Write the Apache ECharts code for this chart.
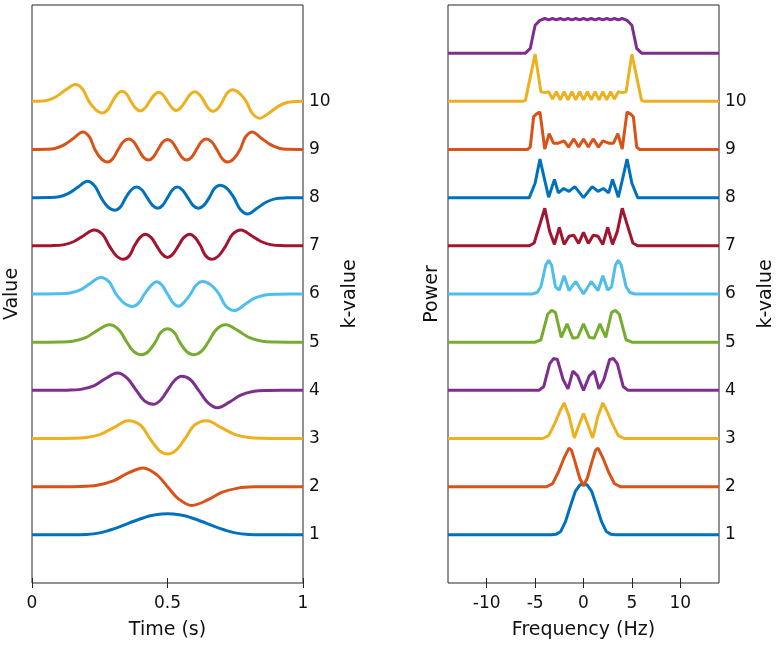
<!DOCTYPE html>
<html>
<head>
<meta charset="utf-8">
<title>Slepian tapers</title>
<script src="https://cdn.jsdelivr.net/npm/echarts@6/dist/echarts.min.js"></script>
<style>
  html, body { margin: 0; padding: 0; background: #fff; }
  #main { width: 780px; height: 647px; }
</style>
</head>
<body>
<div id="main"></div>
<script>
// tick labels
var timeTicks = [0, 0.5, 1];
var freqTicks = [-10, -5, 0, 5, 10];
var kTicks = [1, 2, 3, 4, 5, 6, 7, 8, 9, 10];

// time-domain tapers, [time (s), value above the k baseline]
var taper1 = [[0,0],[0.15,0],[0.2,0.005],[0.25,0.04],[0.31,0.14],[0.36,0.25],[0.41,0.35],[0.45,0.41],[0.5,0.44],
  [0.55,0.41],[0.59,0.35],[0.64,0.25],[0.69,0.14],[0.75,0.04],[0.8,0.005],[0.85,0],[1,0]];
var taper2 = [[0,0],[0.13,0],[0.18,0.003],[0.24,0.03],[0.3,0.12],[0.35,0.27],[0.41,0.39],[0.46,0.25],[0.5,0],
  [0.54,-0.25],[0.59,-0.39],[0.65,-0.27],[0.7,-0.12],[0.76,-0.03],[0.82,-0.003],[0.87,0],[1,0]];
var taper3 = [[0,0],[0.1,0],[0.15,0.003],[0.2,0.02],[0.25,0.08],[0.3,0.22],[0.355,0.37],[0.4,0.28],[0.435,0],
  [0.47,-0.25],[0.5,-0.32],[0.53,-0.25],[0.565,0],[0.6,0.28],[0.645,0.37],[0.7,0.22],[0.75,0.08],[0.8,0.02],
  [0.85,0.003],[0.9,0],[1,0]];
var taper4 = [[0,0],[0.08,0],[0.13,0.003],[0.18,0.02],[0.23,0.1],[0.27,0.24],[0.315,0.36],[0.35,0.26],[0.385,0],
  [0.415,-0.22],[0.448,-0.29],[0.475,-0.2],[0.5,0],[0.525,0.2],[0.552,0.29],[0.585,0.22],[0.615,0],[0.65,-0.26],
  [0.685,-0.36],[0.73,-0.24],[0.77,-0.1],[0.82,-0.02],[0.87,-0.003],[0.92,0],[1,0]];
var taper5 = [[0,0],[0.06,0],[0.1,0.003],[0.15,0.02],[0.2,0.1],[0.24,0.24],[0.285,0.36],[0.32,0.26],[0.35,0],
  [0.375,-0.19],[0.405,-0.26],[0.43,-0.19],[0.455,0],[0.475,0.2],[0.5,0.28],[0.525,0.2],[0.545,0],[0.57,-0.19],
  [0.595,-0.26],[0.625,-0.19],[0.65,0],[0.68,0.26],[0.715,0.36],[0.76,0.24],[0.8,0.1],[0.85,0.02],[0.9,0.003],
  [0.94,0],[1,0]];
var taper6 = [[0,0],[0.05,0],[0.09,0.003],[0.14,0.02],[0.18,0.09],[0.215,0.22],[0.253,0.345],[0.285,0.25],[0.31,0],
  [0.34,-0.19],[0.37,-0.26],[0.395,-0.18],[0.415,0],[0.44,0.18],[0.46,0.255],[0.48,0.18],[0.5,0],[0.52,-0.18],
  [0.54,-0.255],[0.56,-0.18],[0.585,0],[0.605,0.18],[0.63,0.26],[0.66,0.19],[0.69,0],[0.715,-0.25],[0.747,-0.345],
  [0.785,-0.22],[0.82,-0.09],[0.86,-0.02],[0.91,-0.003],[0.95,0],[1,0]];
var taper7 = [[0,0],[0.03,0],[0.07,0.003],[0.115,0.02],[0.155,0.09],[0.19,0.21],[0.229,0.33],[0.26,0.24],[0.285,0],
  [0.31,-0.2],[0.337,-0.28],[0.36,-0.2],[0.378,0],[0.398,0.17],[0.418,0.24],[0.44,0.17],[0.46,0],[0.48,-0.17],
  [0.5,-0.24],[0.52,-0.17],[0.54,0],[0.56,0.17],[0.582,0.24],[0.602,0.17],[0.622,0],[0.64,-0.2],[0.663,-0.28],
  [0.69,-0.2],[0.715,0],[0.74,0.24],[0.771,0.33],[0.81,0.21],[0.845,0.09],[0.885,0.02],[0.93,0.003],[0.97,0],[1,0]];
var taper8 = [[0,0],[0.02,0],[0.06,0.003],[0.1,0.02],[0.135,0.09],[0.17,0.22],[0.204,0.34],[0.232,0.24],[0.255,0],
  [0.28,-0.19],[0.306,-0.26],[0.327,-0.19],[0.346,0],[0.366,0.16],[0.386,0.22],[0.406,0.16],[0.425,0],[0.445,-0.16],
  [0.464,-0.22],[0.482,-0.16],[0.5,0],[0.518,0.16],[0.536,0.22],[0.555,0.16],[0.575,0],[0.594,-0.16],[0.614,-0.22],
  [0.634,-0.16],[0.654,0],[0.673,0.19],[0.694,0.26],[0.72,0.19],[0.745,0],[0.768,-0.24],[0.796,-0.34],[0.83,-0.22],
  [0.865,-0.09],[0.9,-0.02],[0.94,-0.003],[0.98,0],[1,0]];
var taper9 = [[0,0],[0.02,0],[0.05,0.003],[0.085,0.02],[0.12,0.1],[0.155,0.24],[0.187,0.365],[0.212,0.26],[0.232,0],
  [0.255,-0.19],[0.278,-0.26],[0.298,-0.19],[0.318,0],[0.337,0.16],[0.357,0.22],[0.375,0.16],[0.393,0],[0.411,-0.16],
  [0.43,-0.22],[0.447,-0.16],[0.465,0],[0.482,0.15],[0.5,0.21],[0.518,0.15],[0.535,0],[0.553,-0.16],[0.57,-0.22],
  [0.589,-0.16],[0.607,0],[0.625,0.16],[0.643,0.22],[0.663,0.16],[0.682,0],[0.702,-0.19],[0.722,-0.26],[0.745,-0.19],
  [0.768,0],[0.788,0.26],[0.813,0.365],[0.845,0.24],[0.88,0.1],[0.915,0.02],[0.95,0.003],[0.98,0],[1,0]];
var taper10 = [[0,0],[0.03,0.003],[0.06,0.025],[0.09,0.1],[0.125,0.24],[0.16,0.35],[0.187,0.25],[0.21,0],
  [0.235,-0.17],[0.26,-0.24],[0.28,-0.17],[0.297,0],[0.315,0.15],[0.332,0.21],[0.349,0.15],[0.365,0],[0.382,-0.14],
  [0.4,-0.2],[0.417,-0.14],[0.434,0],[0.451,0.13],[0.468,0.19],[0.484,0.13],[0.5,0],[0.516,-0.13],[0.532,-0.19],
  [0.549,-0.13],[0.566,0],[0.583,0.14],[0.6,0.2],[0.618,0.14],[0.635,0],[0.651,-0.15],[0.668,-0.21],[0.686,-0.15],
  [0.703,0],[0.72,0.17],[0.74,0.24],[0.765,0.17],[0.79,0],[0.813,-0.25],[0.84,-0.35],[0.875,-0.24],[0.91,-0.1],
  [0.94,-0.025],[0.97,-0.003],[1,0]];

// power spectra, [frequency (Hz), power above the k baseline]
var spectrum1 = [[-14,0],[-3.3,0],[-2.85,0.01],[-2.35,0.07],[-1.85,0.28],[-1.35,0.6],[-0.85,0.9],[-0.35,1.04],[0,1.04],
  [0.35,1.04],[0.85,0.9],[1.35,0.6],[1.85,0.28],[2.35,0.07],[2.85,0.01],[3.3,0],[14,0]];
var spectrum2 = [[-14,0],[-3.8,0],[-3.2,0.06],[-2.6,0.3],[-2.0,0.6],[-1.5,0.8],[-1.25,0.76],[-0.85,0.5],[-0.4,0.18],
  [0,0.02],[0.4,0.18],[0.85,0.5],[1.25,0.76],[1.5,0.8],[2.0,0.6],[2.6,0.3],[3.2,0.06],[3.8,0],[14,0]];
var spectrum3 = [[-14,0],[-4.2,0],[-3.6,0.06],[-3.0,0.3],[-2.4,0.58],[-2.0,0.74],[-1.5,0.47],[-0.95,0.01],[-0.5,0.26],
  [0,0.52],[0.5,0.26],[0.95,0.01],[1.5,0.47],[2.0,0.74],[2.4,0.58],[3.0,0.3],[3.6,0.06],[4.2,0],[14,0]];
var spectrum4 = [[-14,0],[-4.6,0],[-4.1,0.08],[-3.5,0.55],[-3.1,0.66],[-2.7,0.64],[-2.1,0.22],[-1.6,0.03],[-1.1,0.4],
  [-0.6,0.3],[0,0],[0.6,0.3],[1.1,0.4],[1.6,0.03],[2.1,0.22],[2.7,0.64],[3.1,0.66],[3.5,0.55],[4.1,0.08],[4.6,0],[14,0]];
var spectrum5 = [[-14,0],[-5.0,0],[-4.4,0.05],[-3.7,0.58],[-3.3,0.66],[-2.9,0.62],[-2.3,0.1],[-1.7,0.38],[-1.1,0.08],
  [-0.6,0.1],[0,0.38],[0.6,0.1],[1.1,0.08],[1.7,0.38],[2.3,0.1],[2.9,0.62],[3.3,0.66],[3.7,0.58],[4.4,0.05],[5.0,0],[14,0]];
var spectrum6 = [[-14,0],[-5.3,0],[-4.8,0.03],[-4.4,0.15],[-3.9,0.6],[-3.6,0.7],[-3.3,0.6],[-2.9,0.15],[-2.5,0.08],
  [-2.0,0.38],[-1.5,0.07],[-0.8,0.26],[0,0],[0.8,0.26],[1.5,0.07],[2.0,0.38],[2.5,0.08],[2.9,0.15],[3.3,0.6],[3.6,0.7],
  [3.9,0.6],[4.4,0.15],[4.8,0.03],[5.3,0],[14,0]];
var spectrum7 = [[-14,0],[-5.6,0],[-5.1,0.06],[-4.5,0.45],[-4.0,0.78],[-3.5,0.3],[-3.0,0.03],[-2.5,0.38],[-2.0,0.03],
  [-1.5,0.2],[-1.0,0.22],[-0.5,0.05],[0,0.28],[0.5,0.05],[1.0,0.22],[1.5,0.2],[2.0,0.03],[2.5,0.38],[3.0,0.03],
  [3.5,0.3],[4.0,0.78],[4.5,0.45],[5.1,0.06],[5.6,0],[14,0]];
var spectrum8 = [[-14,0],[-5.6,0],[-5.0,0.3],[-4.5,0.8],[-4.05,0.4],[-3.6,0.01],[-3.0,0.38],[-2.6,0.1],[-2.05,0.19],
  [-1.5,0.13],[-0.9,0.23],[0,0],[0.9,0.23],[1.5,0.13],[2.05,0.19],[2.6,0.1],[3.0,0.38],[3.6,0.01],[4.05,0.4],[4.5,0.8],
  [5.0,0.3],[5.6,0],[14,0]];
var spectrum9 = [[-14,0],[-5.8,0],[-5.5,0.05],[-5.15,0.68],[-4.85,0.74],[-4.5,0.78],[-4.0,0.01],[-3.55,0.33],
  [-3.1,0.13],[-2.6,0.13],[-2.0,0.18],[-1.55,0.05],[-1.0,0.22],[-0.5,0.05],[0,0.22],[0.5,0.05],[1.0,0.22],[1.55,0.05],
  [2.0,0.18],[2.6,0.13],[3.1,0.13],[3.55,0.33],[4.0,0.01],[4.5,0.78],[4.85,0.74],[5.15,0.68],[5.5,0.05],[5.8,0],[14,0]];
var spectrum10 = [[-14,0],[-6.3,0],[-6.0,0.02],[-5.0,0.98],[-4.4,0.2],[-4.0,0.18],[-3.6,0.2],[-3.2,0.05],[-2.8,0.2],
  [-2.4,0.03],[-2.0,0.2],[-1.6,0.03],[-1.2,0.2],[-0.8,0.03],[-0.4,0.2],[0,0.03],[0.4,0.2],[0.8,0.03],[1.2,0.2],
  [1.6,0.03],[2.0,0.2],[2.4,0.03],[2.8,0.2],[3.2,0.05],[3.6,0.2],[4.0,0.18],[4.4,0.2],[5.0,0.98],[6.0,0.02],[6.3,0],[14,0]];
var spectrum11 = [[-14,0],[-6.0,0],[-5.5,0.1],[-5.0,0.58],[-4.5,0.68],[-4.0,0.72],[-3.6,0.69],[-3.2,0.72],[-2.8,0.69],
  [-2.4,0.72],[-2.0,0.69],[-1.6,0.72],[-1.2,0.69],[-0.8,0.72],[-0.4,0.69],[0,0.72],[0.4,0.69],[0.8,0.72],[1.2,0.69],
  [1.6,0.72],[2.0,0.69],[2.4,0.72],[2.8,0.69],[3.2,0.72],[3.6,0.69],[4.0,0.72],[4.5,0.68],[5.0,0.58],[5.5,0.1],[6.0,0],[14,0]];

var tapers = [taper1, taper2, taper3, taper4, taper5, taper6, taper7, taper8, taper9, taper10];
var spectra = [spectrum1, spectrum2, spectrum3, spectrum4, spectrum5, spectrum6, spectrum7, spectrum8, spectrum9,
  spectrum10, spectrum11];

var lineColors = ['#0072BD', '#D95319', '#EDB120', '#7E2F8E', '#77AC30', '#4DBEEE', '#A2142F'];
var textColor = '#111';
var axisColor = '#262626';
var fontFamily = '"DejaVu Sans", sans-serif';

function shift(points, k) {
  return points.map(function (p) { return [p[0], p[1] + k]; });
}

var series = [];
tapers.forEach(function (pts, i) {
  series.push({
    type: 'line', xAxisIndex: 0, yAxisIndex: 0,
    data: shift(pts, i + 1), smooth: 0.35, showSymbol: false, silent: true,
    lineStyle: { color: lineColors[i % 7], width: 3 }
  });
});
spectra.forEach(function (pts, i) {
  series.push({
    type: 'line', xAxisIndex: 2, yAxisIndex: 2,
    data: shift(pts, i + 1), showSymbol: false, silent: true,
    lineStyle: { color: lineColors[i % 7], width: 3 }
  });
});

function bottomAxis(grid, min, max, ticks, name) {
  return {
    type: 'value', gridIndex: grid, position: 'bottom', min: min, max: max,
    name: name, nameLocation: 'middle', nameGap: 38,
    nameTextStyle: { color: textColor, fontSize: 19, fontFamily: fontFamily },
    axisLine: { show: false },
    splitLine: { show: false },
    axisTick: { inside: true, length: 5, customValues: ticks, lineStyle: { color: axisColor } },
    axisLabel: { customValues: ticks, margin: 12, color: textColor, fontSize: 17, fontFamily: fontFamily,
      showMinLabel: true, showMaxLabel: true }
  };
}
function topAxis(grid, min, max, ticks) {
  return {
    type: 'value', gridIndex: grid, position: 'top', min: min, max: max,
    axisLine: { show: false }, splitLine: { show: false }, axisLabel: { show: false },
    axisTick: { inside: true, length: 5, customValues: ticks, lineStyle: { color: axisColor } }
  };
}
function rightAxis(grid) {
  return {
    type: 'value', gridIndex: grid, position: 'right', min: 0, max: 12,
    name: 'k-value', nameLocation: 'middle', nameGap: 38, nameRotate: 90,
    nameTextStyle: { color: textColor, fontSize: 19, fontFamily: fontFamily },
    axisLine: { show: false }, splitLine: { show: false }, axisTick: { show: false },
    axisLabel: { customValues: kTicks, margin: 6, color: textColor, fontSize: 17, fontFamily: fontFamily }
  };
}
function leftAxis(grid, name, gap) {
  return {
    type: 'value', gridIndex: grid, position: 'left', min: 0, max: 12,
    name: name, nameLocation: 'middle', nameGap: gap, nameRotate: 90,
    nameTextStyle: { color: textColor, fontSize: 19, fontFamily: fontFamily },
    axisLine: { show: false }, splitLine: { show: false }, axisTick: { show: false }, axisLabel: { show: false }
  };
}

var chart = echarts.init(document.getElementById('main'));
chart.setOption({
  animation: false,
  backgroundColor: '#fff',
  grid: [
    { left: 32, width: 271, top: 5, height: 578, show: true, borderColor: axisColor, borderWidth: 1 },
    { left: 448, width: 271, top: 5, height: 578, show: true, borderColor: axisColor, borderWidth: 1 }
  ],
  xAxis: [
    bottomAxis(0, 0, 1, timeTicks, 'Time (s)'),
    topAxis(0, 0, 1, timeTicks),
    bottomAxis(1, -14, 14, freqTicks, 'Frequency (Hz)'),
    topAxis(1, -14, 14, freqTicks)
  ],
  yAxis: [
    rightAxis(0),
    leftAxis(0, 'Value', 10),
    rightAxis(1),
    leftAxis(1, 'Power', 6)
  ],
  series: series
});
</script>
</body>
</html>
